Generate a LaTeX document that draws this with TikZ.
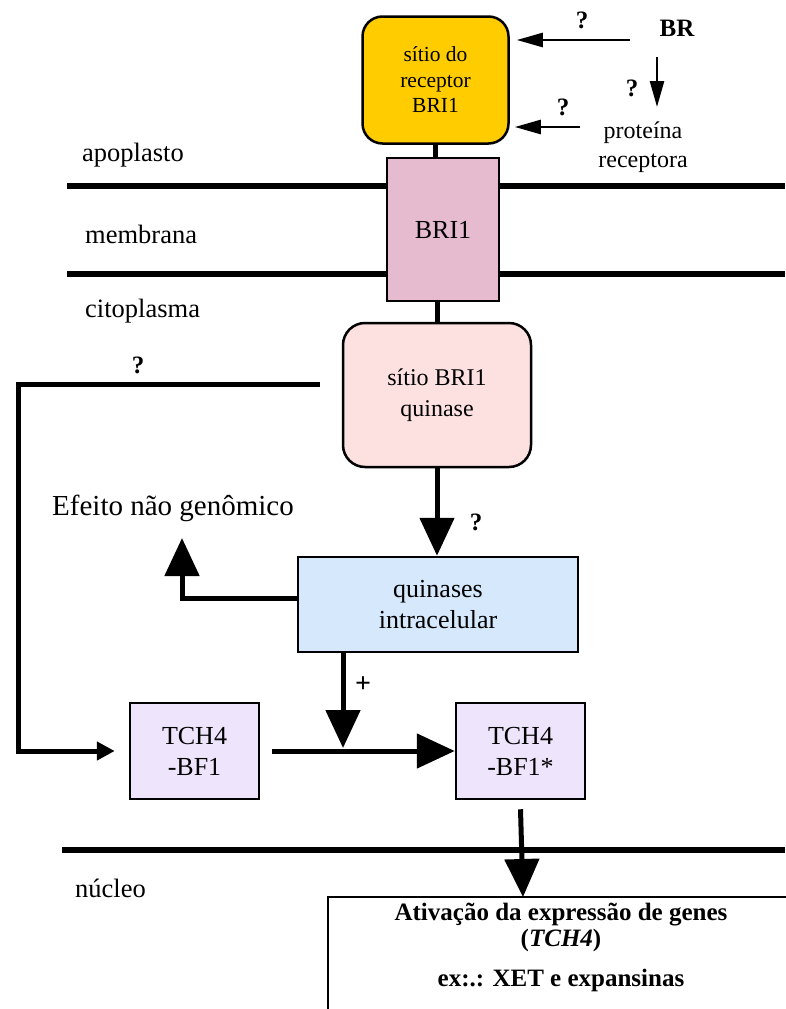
\documentclass[tikz,border=0pt]{standalone}
\usepackage{fontspec}
\setmainfont{Liberation Serif}
\usetikzlibrary{arrows.meta}

\definecolor{amarelo}{HTML}{FFCC00}
\definecolor{rosaescuro}{HTML}{E6BACF}
\definecolor{rosaclaro}{HTML}{FDE1E1}
\definecolor{azulclaro}{HTML}{D6E8FC}
\definecolor{lilas}{HTML}{EEE5FC}

\tikzset{
  caixa/.style={draw, line width=2.5pt, align=center, inner sep=0pt,
    font=\fontsize{26}{31}\selectfont},
  seta/.style={line width=5pt, -{Triangle[length=38pt,width=34pt]}},
  setamedia/.style={line width=5pt, -{Triangle[length=18pt,width=18pt]}},
  setafina/.style={line width=2.5pt, -{Triangle[length=26pt,width=14pt]}},
  rotulo/.style={inner sep=0pt, font=\fontsize{26.5}{29}\selectfont},
  pergunta/.style={inner sep=0pt, font=\bfseries\fontsize{25}{29}\selectfont},
  membrana/.style={line width=6pt},
}

\begin{document}
\begin{tikzpicture}[x=1pt, y=-1pt]
\useasboundingbox (0,0) rectangle (785,1009);

	% membranas
	\draw[membrana] (67,186) -- (785,186);
	\draw[membrana] (67,274) -- (785,274);
	\draw[membrana] (62,850) -- (785,850);

	\node[rotulo, anchor=west] (apo) at (82,155) {apoplasto};
	\node[rotulo, anchor=west] (mem) at (85,234) {membrana};
	\node[rotulo, anchor=west] (cito) at (85,311) {citoplasma};
	\node[rotulo, anchor=west] (nucleo) at (75,888) {núcleo};

	% receptor
	\node[caixa, fill=amarelo, rounded corners=20pt, minimum width=146pt,
	  minimum height=127pt, font=\fontsize{21.5}{25.5}\selectfont]
	  (sitio) at (435.5,80) {sítio do\\receptor\\BRI1};
	\node[caixa, fill=rosaescuro, minimum width=112pt, minimum height=143pt]
	  (bri) at (443,229.5) {BRI1};
	\node[caixa, fill=rosaclaro, rounded corners=22pt, minimum width=188pt,
	  minimum height=144pt, font=\fontsize{24}{31}\selectfont]
	  (cinase) at (437,395) {sítio BRI1\\quinase};
	\node[caixa, fill=azulclaro, minimum width=280pt, minimum height=95pt]
	  (quin) at (438,604.5) {quinases\\intracelular};
	\node[caixa, fill=lilas, minimum width=129pt, minimum height=96pt]
	  (tcha) at (194.5,751) {TCH4\\-BF1};
	\node[caixa, fill=lilas, minimum width=129pt, minimum height=96pt]
	  (tchb) at (520.5,751) {TCH4\\-BF1*};

	\draw[line width=5pt] (sitio.south) -- (sitio.south |- bri.north);
	\draw[line width=5pt] (bri.south -| cinase.north) -- (cinase.north);

	% BR
	\node[pergunta] (br) at (677,28) {BR};
	\node[rotulo, align=center, font=\fontsize{24}{29}\selectfont]
	  (prot) at (643,147) {proteína\\receptora};
	\node[pergunta] (p1) at (582,20) {?};
	\node[pergunta] (p2) at (632,88) {?};
	\node[pergunta] (p3) at (563,107) {?};
	\coordinate (brseta) at (630,40);
	\coordinate (brbaixo) at (657,57);
	\coordinate (protseta) at (580,127);
	\draw[setafina, shorten >=7pt] (brseta) -- (brseta -| sitio.east);
	\draw[setafina] (brbaixo) -- (657,107);
	\draw[setafina, shorten >=5pt] (protseta) -- (protseta -| sitio.east);

	% laco para TCH4-BF1
	\node[pergunta] (p4) at (138,365) {?};
	\coordinate (laco) at (320,384);
	\draw[setamedia, shorten >=14pt] (laco) -- (18,384) |- (tcha.west);

	% quinases
	\node[pergunta] (p5) at (476,522) {?};
	\draw[seta] (cinase.south) -- (cinase.south |- quin.north);
	\node[rotulo, font=\fontsize{29}{33}\selectfont] (efeito) at (173,508)
	  {Efeito não genômico};
	\coordinate (efeitoseta) at (182,538);
	\draw[seta] ([yshift=6.5pt]quin.west) -| (efeitoseta);

	\node[pergunta, font=\bfseries\fontsize{28}{29}\selectfont]
	  (mais) at (363,685) {+};
	\coordinate (juncao) at (343,748);
	\draw[seta] (juncao |- quin.south) -- (juncao);
	\draw[seta] ([xshift=12pt]tcha.east) -- (tchb.west);

	% nucleo
	\coordinate (genestopo) at (523,897);
	\draw[line width=2.5pt] (328,1012) -- (328,897) -- (790,897);
	\node[inner sep=0pt, align=center, anchor=north,
	  font=\bfseries\fontsize{25}{25}\selectfont] (genes) at (561,903)
	  {Ativação da expressão de genes\\[1pt](\textit{TCH4})\\[15pt]ex:.: XET e expansinas};
	\draw[seta] ([yshift=-9pt]tchb.south) -- (genestopo);
\end{tikzpicture}
\end{document}
